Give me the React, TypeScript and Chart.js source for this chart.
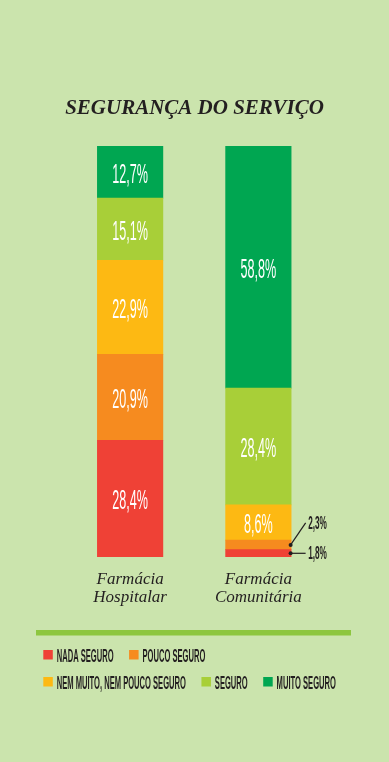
import React, { useEffect, useRef } from "react";
import { Chart, registerables } from "chart.js";

Chart.register(...registerables);

const TITLE = "SEGURANÇA DO SERVIÇO";
const categories = [
  ["Farmácia", "Hospitalar"],
  ["Farmácia", "Comunitária"],
];
const seriesNames = [
  "NADA SEGURO",
  "POUCO SEGURO",
  "NEM MUITO, NEM POUCO SEGURO",
  "SEGURO",
  "MUITO SEGURO",
];
const nadaSeguro = [28.4, 1.8];
const poucoSeguro = [20.9, 2.3];
const nemMuitoNemPouco = [22.9, 8.6];
const seguro = [15.1, 28.4];
const muitoSeguro = [12.7, 58.8];
const seriesColors = ["#ef4136", "#f68b1f", "#fdb913", "#a8cf38", "#00a651"];

const BG = "#cbe4ad";
const DARK = "#231f20";
const SANS = '"Liberation Sans", Arial, sans-serif';
const SERIF = '"Liberation Serif", "Times New Roman", serif';

function fmt(v: number) {
  return v.toFixed(1).replace(".", ",") + "%";
}

function cText(
  ctx: CanvasRenderingContext2D,
  t: string,
  x: number,
  y: number,
  size: number,
  sx: number,
  align: CanvasTextAlign,
  color: string,
  weight = "normal"
) {
  ctx.save();
  ctx.font = `${weight} ${size}px ${SANS}`;
  ctx.fillStyle = color;
  ctx.textAlign = align;
  ctx.textBaseline = "alphabetic";
  ctx.translate(x, y);
  ctx.scale(sx, 1);
  ctx.fillText(t, 0, 0);
  ctx.restore();
}

const overlayPlugin = {
  id: "overlay",
  afterDraw(chart: any) {
    const ctx: CanvasRenderingContext2D = chart.ctx;
    // title
    ctx.save();
    ctx.fillStyle = DARK;
    ctx.font = `italic bold 21px ${SERIF}`;
    ctx.textAlign = "center";
    ctx.textBaseline = "alphabetic";
    ctx.fillText(TITLE, 194.5, 114);
    ctx.restore();

    // category labels
    const xs = chart.scales.x;
    ctx.save();
    ctx.fillStyle = DARK;
    ctx.font = `italic 17px ${SERIF}`;
    ctx.textAlign = "center";
    categories.forEach((lines, i) => {
      const x = xs.getPixelForValue(i);
      lines.forEach((l, j) => ctx.fillText(l, x, 584 + j * 18));
    });
    ctx.restore();

    // value labels
    const smallCount = categories.map(() => 0);
    chart.data.datasets.forEach((ds: any, di: number) => {
      const meta = chart.getDatasetMeta(di);
      meta.data.forEach((el: any, i: number) => {
        const v = ds.data[i] as number;
        const p = el.getProps(["x", "y", "base", "width"], true);
        const cy = (p.y + p.base) / 2;
        if (v >= 5) {
          cText(ctx, fmt(v), p.x, cy + 10.5, 28, 0.45, "center", "#ffffff");
        } else {
          const k = smallCount[i]++;
          const dx = p.x + p.width / 2 - 0.5;
          const ex = dx + 15;
          const ey = cy - 22 * k;
          ctx.save();
          ctx.strokeStyle = DARK;
          ctx.fillStyle = DARK;
          ctx.lineWidth = 1.2;
          ctx.beginPath();
          ctx.moveTo(dx, cy);
          ctx.lineTo(ex, ey);
          ctx.stroke();
          ctx.beginPath();
          ctx.arc(dx, cy, 2, 0, Math.PI * 2);
          ctx.fill();
          ctx.restore();
          cText(ctx, fmt(v), ex + 2.5, ey + 6, 17.5, 0.47, "left", DARK, "bold");
        }
      });
    });

    // separator line
    ctx.save();
    ctx.fillStyle = "#8dc63f";
    ctx.fillRect(36, 630, 315, 5.5);
    ctx.restore();

    // legend
    const rows = [
      [0, 1],
      [2, 3, 4],
    ];
    const tops = [650, 677];
    const size = 18.5;
    const sx = 0.41;
    rows.forEach((row, r) => {
      let x = 43.3;
      row.forEach((idx) => {
        ctx.save();
        ctx.fillStyle = seriesColors[idx];
        ctx.fillRect(x, tops[r], 9.5, 9.5);
        ctx.font = `bold ${size}px ${SANS}`;
        const w = ctx.measureText(seriesNames[idx]).width * sx;
        ctx.restore();
        cText(ctx, seriesNames[idx], x + 13.4, tops[r] + 11.8, size, sx, "left", DARK, "bold");
        x = x + 13.4 + w + 15.5;
      });
    });
  },
};

export default function App() {
  const ref = useRef<HTMLCanvasElement | null>(null);
  useEffect(() => {
    if (!ref.current) return;
    const seriesData = [nadaSeguro, poucoSeguro, nemMuitoNemPouco, seguro, muitoSeguro];
    const chart = new Chart(ref.current, {
      type: "bar",
      data: {
        labels: categories.map((c) => c.join(" ")),
        datasets: seriesData.map((d, i) => ({
          label: seriesNames[i],
          data: d,
          backgroundColor: seriesColors[i],
          borderWidth: 0,
          barThickness: 65.5,
        })),
      },
      options: {
        responsive: false,
        maintainAspectRatio: false,
        animation: false,
        layout: { padding: { left: 66, right: 66.5, top: 146, bottom: 205 } },
        plugins: {
          legend: { display: false },
          tooltip: { enabled: false },
          title: { display: false },
        },
        events: [],
        scales: {
          x: { stacked: true, display: false },
          y: { stacked: true, display: false, min: 0, max: 100 },
        },
      },
      plugins: [overlayPlugin],
    });
    return () => chart.destroy();
  }, []);
  return (
    <div
      style={{
        position: "fixed",
        left: 0,
        top: 0,
        width: 389,
        height: 762,
        background: BG,
      }}
    >
      <canvas ref={ref} width={389} height={762} style={{ display: "block" }} />
    </div>
  );
}
